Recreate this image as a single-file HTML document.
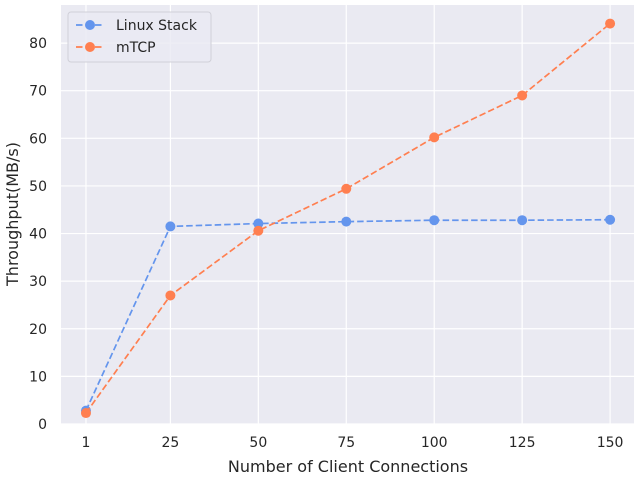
<!DOCTYPE html>
<html><head><meta charset="utf-8"><style>
body{margin:0;background:#fff;font-family:"Liberation Sans","DejaVu Sans",sans-serif;}
svg text{font-family:"DejaVu Sans","Liberation Sans",sans-serif;fill:#262626;}
</style></head><body>
<svg id="chart" width="640" height="480" xmlns="http://www.w3.org/2000/svg"></svg>
<script>
const categories=[1,25,50,75,100,125,150];
const linuxValues=[2.8,41.5,42.1,42.5,42.8,42.8,42.9];
const mtcpValues=[2.3,27.0,40.6,49.4,60.2,69.0,84.1];
const yTicks=[0,10,20,30,40,50,60,70,80];
const xTicks=[1,25,50,75,100,125,150];
const NS="http://www.w3.org/2000/svg";
const svg=document.getElementById('chart');
const L=61,R=634,T=5,B=424;
const x=v=>L+(v+6.1)/162.9*(R-L);
const y=v=>B-v/88*(B-T);
function mk(t,a,p){const e=document.createElementNS(NS,t);for(const k in a)e.setAttribute(k,a[k]);(p||svg).appendChild(e);return e;}
const bg=mk('rect',{x:L,y:T,width:R-L,height:B-T,fill:'#eaeaf2'});


yTicks.forEach(v=>{
 const g=mk('line',{x1:L,x2:R,y1:y(v),y2:y(v),stroke:'#fff','stroke-width':1.2});
 
 
 const t=mk('text',{x:L-14,y:y(v)+5,'text-anchor':'end','font-size':14});
 t.textContent=v;
 
 
});
xTicks.forEach(v=>{
 const g=mk('line',{x1:x(v),x2:x(v),y1:T,y2:B,stroke:'#fff','stroke-width':1.2});
 
 
 const t=mk('text',{x:x(v),y:447,'text-anchor':'middle','font-size':14});
 t.textContent=v;
 
 
});
function series(vals,color,name){
 const pts=categories.map((c,i)=>x(c)+','+y(vals[i])).join(' ');
 const pl=mk('polyline',{points:pts,fill:'none',stroke:color,'stroke-width':1.7,'stroke-dasharray':'6.5,3'});
 
 
 categories.forEach((c,i)=>{
  const p=mk('circle',{cx:x(c),cy:y(vals[i]),r:5,fill:color});
  
  
 });
}
series(linuxValues,'#6495ed','linux-stack');
series(mtcpValues,'#ff7f50','mtcp');
const xl=mk('text',{x:348,y:472,'text-anchor':'middle','font-size':16});
xl.textContent='Number of Client Connections';


const yl=mk('text',{x:18,y:214,'text-anchor':'middle','font-size':16,transform:'rotate(-90 18 214)'});
yl.textContent='Throughput(MB/s)';


const lg=mk('g',{});


mk('rect',{x:68,y:12,width:143,height:50,rx:3,fill:'#eaeaf2',stroke:'#d0d0d8','fill-opacity':0.8},lg);
[['Linux Stack','#6495ed',25],['mTCP','#ff7f50',47]].forEach(([n,c,yy])=>{
 const e=mk('g',{},lg);
 
 
 mk('line',{x1:76,x2:104,y1:yy,y2:yy,stroke:c,'stroke-width':1.7,'stroke-dasharray':'6.5,3'},e);
 mk('circle',{cx:90,cy:yy,r:5,fill:c},e);
 const t=mk('text',{x:116,y:yy+5,'font-size':14},e);t.textContent=n;
});
</script>
</body></html>
